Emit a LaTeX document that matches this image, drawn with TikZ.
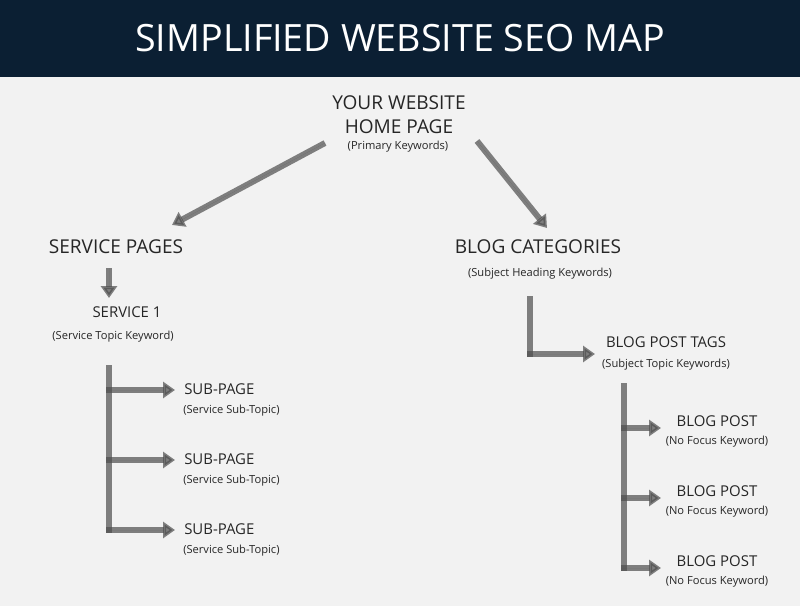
\documentclass[tikz,border=0pt]{standalone}
\usepackage{fontspec}
\setmainfont{Open Sans}
\usetikzlibrary{arrows.meta}
\definecolor{navy}{HTML}{0B1F33}
\definecolor{paper}{HTML}{F2F2F2}
\definecolor{linkgray}{HTML}{4E4E4E}
\tikzset{
  headline/.style={text=white, font=\fontsize{28.2}{32}\selectfont, inner sep=0pt},
  section/.style={font=\fontsize{14.3}{18}\selectfont, inner sep=0pt, text=black!85},
  page/.style={font=\fontsize{11.2}{14}\selectfont, inner sep=0pt, text=black!85},
  keyword/.style={font=\fontsize{8.35}{10}\selectfont, inner sep=0pt, text=black!85},
  link/.style={draw=linkgray, draw opacity=.7, line width=4.5pt},
  linkto/.style={link, fill=linkgray, fill opacity=.7, -{Triangle[length=9pt,width=12pt]}},
}
\begin{document}
\begin{tikzpicture}[x=.75pt, y=-.75pt]
\useasboundingbox (0,0) rectangle (800,606);
\fill[paper] (0,0) rectangle (800,606);
\fill[navy] (0,0) rectangle (800,77);
\node[headline] (title) at (400,38) {SIMPLIFIED WEBSITE SEO MAP};

% home page
\node[section, align=center] (home) at (399,115) {YOUR WEBSITE\\HOME PAGE};
\node[keyword] (homekw) at (398,147) {(Primary Keywords)};

% service side
\node[section] (service) at (116,247) {SERVICE PAGES};
\node[page] (service1) at (127,312) {SERVICE 1};
\node[keyword] (service1kw) at (113,337) {(Service Topic Keyword)};
\foreach \i/\y in {1/389,2/459,3/529}
{
    \node[page, anchor=west] (sub\i) at (184,\y) {SUB-PAGE};
    \node[keyword, anchor=west] (subkw\i) at (183,\y+22) {(Service Sub-Topic)};
}

% blog side
\node[section] (blog) at (538,247) {BLOG CATEGORIES};
\node[keyword] (blogkw) at (540,274) {(Subject Heading Keywords)};
\node[page] (tags) at (666,342) {BLOG POST TAGS};
\node[keyword] (tagskw) at (666,365) {(Subject Topic Keywords)};
\foreach \i/\y in {1/421,2/491,3/561}
{
    \node[page] (post\i) at (717,\y) {BLOG POST};
    \node[keyword] (postkw\i) at (717,\y+21) {(No Focus Keyword)};
}

% connector ends
\coordinate (homeL) at (325,143);
\coordinate (homeR) at (477,141);
\coordinate (serviceIn) at (172,225);
\coordinate (blogIn) at (547,228);
\coordinate (serviceOut) at (109,268);
\coordinate (service1In) at (109,298);
\coordinate (blogOut) at (530,296);
\coordinate (blogCorner) at (530,357);
\coordinate (tagsIn) at (595,354);
\coordinate (subTop) at (109,365);
\coordinate (subBottom) at (109,533);
\coordinate (postTop) at (624,383);
\coordinate (postBottom) at (624,571);

\draw[linkto] (homeL) -- (serviceIn);
\draw[linkto] (homeR) -- (blogIn);
\draw[linkto] (serviceOut) -- (service1In);
\draw[link] (blogOut) -- (blogCorner);
\draw[linkto] (527,354) -- (tagsIn);

\draw[link] (subTop) -- (subBottom);
\foreach \y in {390,460,530}
    \draw[linkto] (106,\y) -- (175,\y);
\draw[link] (postTop) -- (postBottom);
\foreach \y in {428,498,568}
    \draw[linkto] (621,\y) -- (661,\y);
\end{tikzpicture}
\end{document}
